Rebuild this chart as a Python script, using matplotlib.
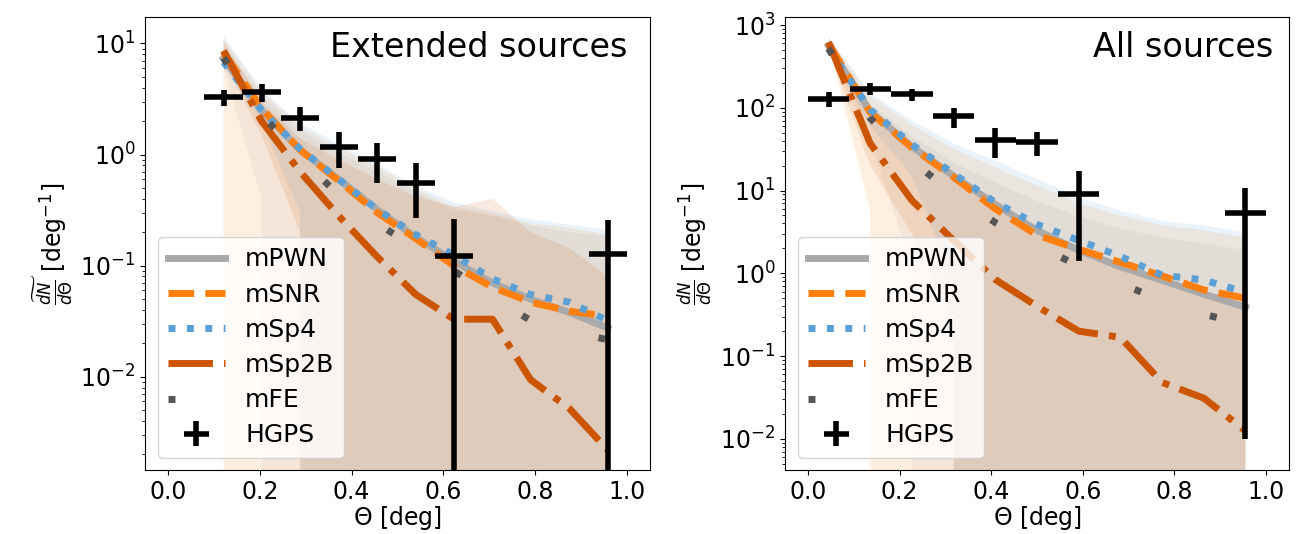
import numpy as np
import matplotlib
matplotlib.use("Agg")
import matplotlib.pyplot as plt

# angular bins (bin centres, deg) and half widths
theta_ext = [0.121, 0.204, 0.288, 0.372, 0.456, 0.540, 0.623, 0.707, 0.790, 0.874, 0.958]
theta_all = [0.045, 0.136, 0.227, 0.318, 0.409, 0.500, 0.591, 0.682, 0.773, 0.864, 0.955]

# model curves, extended sources
pwn_ext = [7.3, 2.5, 1.1, 0.60, 0.32, 0.18, 0.11, 0.07, 0.05, 0.038, 0.0275]
snr_ext = [8.3, 2.6, 1.1, 0.58, 0.30, 0.175, 0.10, 0.064, 0.047, 0.039, 0.035]
sp4_ext = [6.8, 2.5, 1.12, 0.60, 0.32, 0.19, 0.125, 0.076, 0.055, 0.047, 0.032]
sp2b_ext = [8.6, 2.0, 0.70, 0.28, 0.12, 0.055, 0.033, 0.033, 0.0094, 0.0052, 0.0022]
fe_ext = [7.4, 2.3, 0.95, 0.43, 0.24, 0.144, 0.09, 0.053, 0.032, 0.026, 0.0215]

# model spread, extended sources
pwn_ext_lo = [6.0, 0.4, 0, 0, 0, 0, 0, 0, 0, 0, 0]
pwn_ext_hi = [9.5, 3.4, 1.65, 1.05, 0.70, 0.46, 0.32, 0.28, 0.23, 0.20, 0.185]
snr_ext_lo = [0, 0, 0, 0, 0, 0, 0, 0, 0, 0, 0]
snr_ext_hi = [11.0, 3.7, 1.8, 1.15, 0.78, 0.49, 0.34, 0.29, 0.24, 0.22, 0.19]
sp4_ext_lo = [6.0, 2.0, 0.3, 0, 0, 0, 0, 0, 0, 0, 0]
sp4_ext_hi = [11.6, 3.9, 1.9, 1.25, 0.82, 0.52, 0.37, 0.31, 0.26, 0.235, 0.21]
sp2b_ext_lo = [7.0, 1.5, 0.2, 0, 0, 0, 0, 0, 0, 0, 0]
sp2b_ext_hi = [10.5, 3.0, 1.4, 0.90, 0.60, 0.42, 0.34, 0.40, 0.20, 0.145, 0.08]

# model curves, all sources
pwn_all = [560, 90, 34, 15, 6.8, 3.3, 1.9, 1.2, 0.82, 0.56, 0.39]
snr_all = [600, 88, 33, 14.5, 6.0, 2.9, 1.95, 1.36, 0.93, 0.63, 0.50]
sp4_all = [520, 95, 36, 16, 7.2, 3.9, 2.5, 1.6, 0.95, 0.83, 0.59]
sp2b_all = [620, 37, 7.6, 2.5, 0.84, 0.40, 0.20, 0.168, 0.048, 0.031, 0.0125]
fe_all = [520, 75, 23, 9.0, 4.1, 2.2, 1.22, 0.75, 0.47, 0.32, 0.24]

# model spread, all sources
pwn_all_lo = [480, 40, 1.2, 0, 0, 0, 0, 0, 0, 0, 0]
pwn_all_hi = [600, 110, 45, 22, 12.5, 7.5, 4.8, 3.5, 2.7, 2.3, 1.9]
snr_all_lo = [600, 5.7, 0, 0, 0, 0, 0, 0, 0, 0, 0]
snr_all_hi = [700, 140, 62, 32, 19, 11.5, 7.0, 5.0, 3.8, 3.3, 2.7]
sp4_all_lo = [480, 60, 15, 0.8, 0, 0, 0, 0, 0, 0, 0]
sp4_all_hi = [720, 150, 70, 37, 23, 13.8, 8.3, 5.7, 4.3, 3.8, 3.1]
sp2b_all_lo = [500, 20, 3.0, 0.3, 0, 0, 0, 0, 0, 0, 0]
sp2b_all_hi = [650, 90, 30, 14, 7.0, 3.6, 2.1, 1.3, 0.9, 0.6, 0.45]

# HGPS measurements
hgps_ext_x = [0.121, 0.204, 0.288, 0.372, 0.456, 0.540, 0.623, 0.958]
hgps_ext_y = [3.3, 3.64, 2.14, 1.17, 0.91, 0.556, 0.121, 0.128]
hgps_ext_yerr = [0.55, 0.65, 0.52, 0.42, 0.36, 0.29, 0.14, 0.132]
hgps_ext_xerr = 0.0417

hgps_all_x = [0.045, 0.136, 0.227, 0.318, 0.409, 0.500, 0.591, 0.955]
hgps_all_y = [128, 170, 145, 78.5, 41, 38.4, 9.2, 5.4]
hgps_all_yerr = [26, 28, 25, 21, 16, 12, 7.8, 5.39]
hgps_all_xerr = 0.045

c_pwn = "#aaaaaa"
c_snr = "#ff7f0e"
c_sp4 = "#5a9fd6"
c_sp2b = "#cc5500"
c_fe = "#555555"
band_alpha = 0.12

fig = plt.figure(figsize=(12.96, 5.34), dpi=100)
ax1 = fig.add_axes([145 / 1296, 64 / 534, 505 / 1296, 453 / 534])
ax2 = fig.add_axes([785 / 1296, 64 / 534, 504 / 1296, 453 / 534])


def draw_panel(ax, theta, curves, bands, hx, hy, hxerr, hyerr):
    for (lo, hi), col in zip(bands, [c_pwn, c_snr, c_sp4, c_sp2b]):
        ax.fill_between(theta, lo, hi, color=col, alpha=band_alpha, lw=0)
    pwn, snr, sp4, sp2b, fe = curves
    ax.plot(theta, pwn, color=c_pwn, lw=5, label="mPWN")
    ax.plot(theta, snr, color=c_snr, lw=5, ls="--", label="mSNR")
    ax.plot(theta, sp4, color=c_sp4, lw=5, ls=":", label="mSp4")
    ax.plot(theta, sp2b, color=c_sp2b, lw=5, ls="-.", label="mSp2B")
    ax.plot(theta, fe, color=c_fe, lw=5, ls=(0, (1, 10.5)), label="mFE")
    ax.errorbar(hx, hy, xerr=hxerr, yerr=hyerr, fmt="none", ecolor="black",
                elinewidth=4, label="HGPS")
    ax.set_yscale("log")
    ax.set_xlim(-0.05, 1.05)
    ax.set_xticks([0.0, 0.2, 0.4, 0.6, 0.8, 1.0])
    ax.set_xlabel(r"$\Theta$ [deg]", fontsize=17, labelpad=0)
    ax.tick_params(labelsize=17)
    ax.legend(loc="lower left", fontsize=18, handlelength=2.3, labelspacing=0.45)


draw_panel(ax1, theta_ext,
           [pwn_ext, snr_ext, sp4_ext, sp2b_ext, fe_ext],
           [(pwn_ext_lo, pwn_ext_hi), (snr_ext_lo, snr_ext_hi),
            (sp4_ext_lo, sp4_ext_hi), (sp2b_ext_lo, sp2b_ext_hi)],
           hgps_ext_x, hgps_ext_y, hgps_ext_xerr, hgps_ext_yerr)
ax1.set_ylim(0.00145, 17.3)
ax1.set_ylabel(r"$\widetilde{\frac{dN}{d\Theta}}$ [deg$^{-1}$]", fontsize=17)
ax1.text(0.956, 0.97, "Extended sources", transform=ax1.transAxes,
         ha="right", va="top", fontsize=24)

draw_panel(ax2, theta_all,
           [pwn_all, snr_all, sp4_all, sp2b_all, fe_all],
           [(pwn_all_lo, pwn_all_hi), (snr_all_lo, snr_all_hi),
            (sp4_all_lo, sp4_all_hi), (sp2b_all_lo, sp2b_all_hi)],
           hgps_all_x, hgps_all_y, hgps_all_xerr, hgps_all_yerr)
ax2.set_ylim(0.0042, 1250)
ax2.set_ylabel(r"$\frac{dN}{d\Theta}$ [deg$^{-1}$]", fontsize=17)
ax2.text(0.969, 0.97, "All sources", transform=ax2.transAxes,
         ha="right", va="top", fontsize=24)

fig.savefig("out.png", dpi=100)
